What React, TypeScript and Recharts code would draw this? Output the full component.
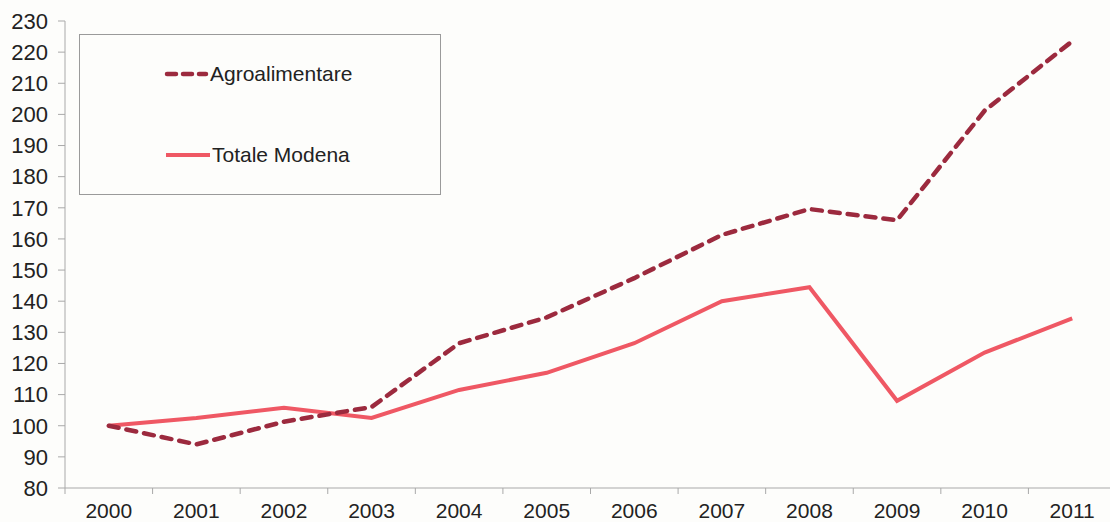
import React from 'react';
import { LineChart, Line, XAxis, YAxis } from 'recharts';

const years = ['2000', '2001', '2002', '2003', '2004', '2005', '2006', '2007', '2008', '2009', '2010', '2011'];
const agroalimentare = [100, 94, 101.3, 106, 126.5, 134.8, 147.4, 161.3, 169.6, 166, 201.2, 223.5];
const totaleModena = [100, 102.5, 105.8, 102.5, 111.5, 117, 126.5, 140, 144.5, 108, 123.5, 134.5];
const yTicks = [80, 90, 100, 110, 120, 130, 140, 150, 160, 170, 180, 190, 200, 210, 220, 230];

const AGRO = '#9c2a3e';
const TOT = '#ef5864';
const AXIS = '#a9a9a9';
const FONT = '"Liberation Sans", Arial, sans-serif';

const data = years.map((y, i) => ({ idx: i, year: y, agro: agroalimentare[i], tot: totaleModena[i] }));

// labels at the centres, small tick marks at the category boundaries
const xTicks: number[] = [];
for (let i = 0; i <= years.length; i++) {
    xTicks.push(i - 0.5);
    if (i < years.length) xTicks.push(i);
}

const X_TICK_SIZE = 6;
const X_TICK_MARGIN = 9;

const XTick = (props: any) => {
    const { x, y, payload } = props;
    const v = payload.value;
    if (Number.isInteger(v)) {
        return (
            <text x={x} y={y} dy="0.71em" textAnchor="middle" fill="#222" fontSize={21} fontFamily={FONT}>
                {years[v]}
            </text>
        );
    }
    return <line x1={x} x2={x} y1={y - X_TICK_MARGIN - X_TICK_SIZE} y2={y - X_TICK_MARGIN} stroke={AXIS} />;
};

export default function App() {
    return (
        <div style={{ position: 'absolute', left: 0, top: 0, width: 1110, height: 522, overflow: 'hidden', background: '#fdfdfb', fontFamily: FONT }}>
            <LineChart width={1120} height={522} data={data} margin={{ top: 21, right: 4, bottom: 0, left: 0 }}>
                <XAxis
                    dataKey="idx"
                    type="number"
                    domain={[-0.5, years.length - 0.5]}
                    ticks={xTicks}
                    interval={0}
                    height={34}
                    tickLine={false}
                    tickSize={X_TICK_SIZE}
                    tickMargin={X_TICK_MARGIN}
                    axisLine={{ stroke: AXIS }}
                    tick={<XTick />}
                />
                <YAxis
                    domain={[80, 230]}
                    ticks={yTicks}
                    interval={0}
                    width={65}
                    tickSize={7}
                    tickMargin={10}
                    tickLine={{ stroke: AXIS }}
                    axisLine={{ stroke: AXIS }}
                    tick={{ fill: '#222', fontSize: 22, fontFamily: FONT }}
                />
                <Line
                    type="linear"
                    dataKey="tot"
                    name="Totale Modena"
                    stroke={TOT}
                    strokeWidth={4}
                    dot={false}
                    isAnimationActive={false}
                />
                <Line
                    type="linear"
                    dataKey="agro"
                    name="Agroalimentare"
                    stroke={AGRO}
                    strokeWidth={4.5}
                    strokeDasharray="10 8"
                    strokeLinecap="round"
                    dot={false}
                    isAnimationActive={false}
                />
            </LineChart>

            {/* legend box */}
            <div style={{ position: 'absolute', left: 79, top: 34, width: 360, height: 159, border: '1px solid #9a9a9a', background: '#fdfdfb' }}>
                <div style={{ position: 'absolute', left: 84, top: 27, display: 'flex', alignItems: 'center' }}>
                    <svg width={46} height={10}>
                        <line x1={3} y1={5} x2={42} y2={5} stroke={AGRO} strokeWidth={4.5} strokeDasharray="9 7" strokeLinecap="round" />
                    </svg>
                    <span style={{ fontSize: 21, color: '#222' }}>Agroalimentare</span>
                </div>
                <div style={{ position: 'absolute', left: 84, top: 108, display: 'flex', alignItems: 'center' }}>
                    <svg width={48} height={10}>
                        <line x1={2} y1={5} x2={46} y2={5} stroke={TOT} strokeWidth={4} />
                    </svg>
                    <span style={{ fontSize: 21, color: '#222' }}>Totale Modena</span>
                </div>
            </div>
        </div>
    );
}
